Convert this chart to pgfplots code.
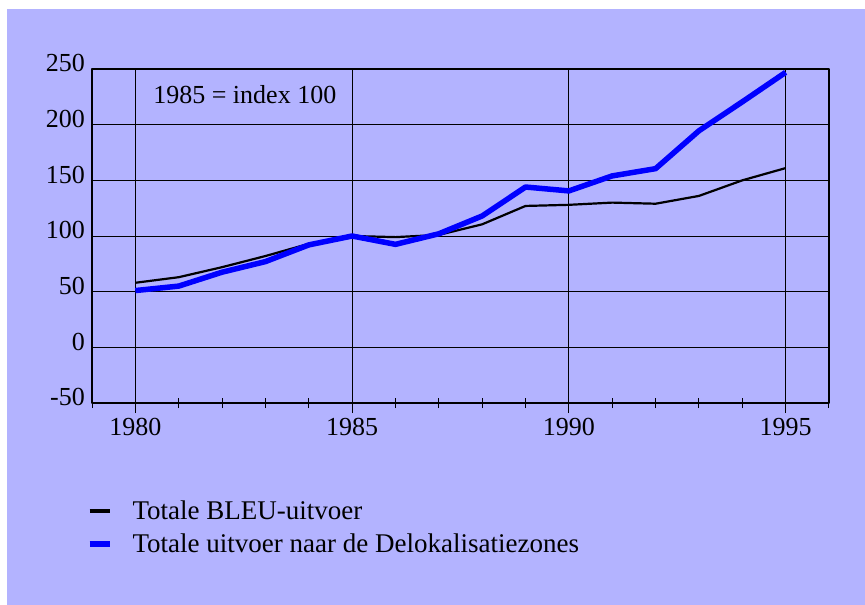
\documentclass[border=0pt]{standalone}
\usepackage{pgfplots}
\pgfplotsset{compat=1.18}
\usepackage{fontspec}
\setmainfont{Liberation Serif}
\definecolor{bgblue}{RGB}{179,179,255}
\definecolor{lineblue}{RGB}{0,0,255}

\begin{document}
\begin{tikzpicture}[x=1pt,y=1pt]
\fill[white] (0,0) rectangle (865,-605);
\fill[bgblue] (7,-9) rectangle (865,-605);
\begin{axis}[
  at={(92pt,-403pt)}, anchor=south west,
  scale only axis, width=737pt, height=334pt,
  xmin=1979, xmax=1996, ymin=-50, ymax=250,
  xtick={1980,1985,1990,1995}, minor xtick={1979,...,1996},
  ytick={-50,0,...,250},
  grid=major, major grid style={black, line width=0.8pt},
  axis line style={black, line width=1.1pt},
  tick align=center, xtick pos=bottom, ytick pos=left,
  major tick length=20pt, minor tick length=10pt,
  tick style={black, line width=0.9pt},
  ytick style={draw=none},
  /pgf/number format/1000 sep={},
  /pgf/number format/assume math mode=true,
  tick label style={font=\fontsize{26}{30}\selectfont},
  yticklabel style={anchor=base east, inner sep=0pt, xshift=3pt, yshift=-2.7pt},
  xticklabel style={anchor=north, inner sep=0pt, yshift=-5pt},
  legend style={at={(axis description cs:-0.0118,-0.2855)}, anchor=north west,
    draw=none, fill=none, font=\fontsize{27}{31}\selectfont,
    nodes={inner sep=0pt}, column sep=20pt, row sep=13pt, cells={anchor=west}},
  line join=round,
]
\addplot[black, line width=2.2pt, legend image code/.code={\draw[black, line width=4pt] (0pt,0pt) -- (20pt,0pt);}] coordinates {
(1980,58)(1981,63)(1982,72)(1983,82)(1984,93)(1985,100)(1986,99)(1987,101)
(1988,110.5)(1989,127)(1990,128)(1991,130)(1992,129)(1993,136)(1994,150)(1995,161)};
\addlegendentry{Totale BLEU-uitvoer}
\addplot[lineblue, line width=5.5pt, legend image code/.code={\draw[lineblue, line width=6pt] (0pt,0pt) -- (20pt,0pt);}] coordinates {
(1980,51)(1981,55)(1982,67.5)(1983,77)(1984,92)(1985,100)(1986,92.5)(1987,102)
(1988,118)(1989,144)(1990,140.5)(1991,154)(1992,160.5)(1993,194.5)(1994,220.5)(1995,247)};
\addlegendentry{Totale uitvoer naar de Delokalisatiezones}
\node[anchor=base west, inner sep=0pt, font=\fontsize{26}{30}\selectfont] at (axis cs:1980.41,219.4) {1985 = index 100};
\end{axis}
\end{tikzpicture}
\end{document}
